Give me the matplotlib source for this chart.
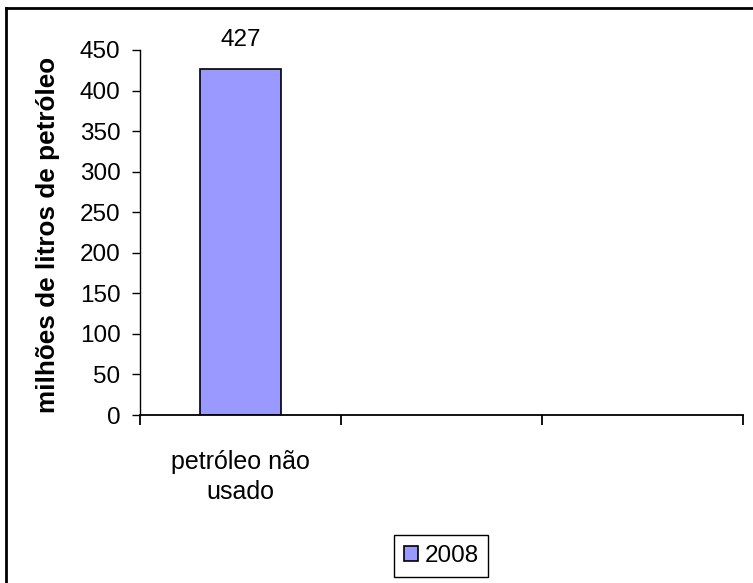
import matplotlib.pyplot as plt
from matplotlib.lines import Line2D
from matplotlib.patches import Patch

plt.rcParams['font.family'] = ['Liberation Sans', 'DejaVu Sans']

categories = ["petróleo não\nusado", "", ""]
values_2008 = [427, None, None]
series_name = "2008"
y_ticks = [0, 50, 100, 150, 200, 250, 300, 350, 400, 450]

W, H = 753, 583
fig = plt.figure(figsize=(W / 100, H / 100), dpi=100)
ax = fig.add_axes([140 / W, 1 - 415 / H, (743 - 140) / W, (415 - 50) / H])

fs = 17.5
bar_color = "#9999FF"
xs = [i for i, v in enumerate(values_2008) if v is not None]
vals = [v for v in values_2008 if v is not None]
ax.bar(xs, vals, width=0.4, color=bar_color, edgecolor="black", linewidth=1.2)
for x, v in zip(xs, vals):
    ax.annotate(str(v), (x, v), xytext=(0, 13), textcoords="offset points",
                ha="center", va="bottom", fontsize=fs)

ax.set_xlim(-0.5, len(categories) - 0.5)
ax.set_ylim(0, 450)
ax.set_yticks(y_ticks)
ax.tick_params(axis="y", labelsize=fs, direction="out", length=6, width=1, pad=8)

# category boundaries as major ticks, labels at centers as minor ticks
ax.set_xticks([i - 0.5 for i in range(len(categories) + 1)])
ax.set_xticklabels([])
ax.set_xticks(range(len(categories)), minor=True)
ax.set_xticklabels(categories, minor=True, fontsize=18, linespacing=1.35)
ax.tick_params(axis="x", which="major", direction="out", length=7, width=1.3)
ax.tick_params(axis="x", which="minor", length=0, pad=25)

for s in ["top", "right"]:
    ax.spines[s].set_visible(False)
ax.spines["left"].set_linewidth(1)
ax.spines["bottom"].set_linewidth(1.3)

ax.set_ylabel("milhões de litros de petróleo", fontsize=18.8, fontweight="bold")
ax.yaxis.set_label_coords((60 - 140) / 603, 0.493)

handle = Patch(facecolor=bar_color, edgecolor="black", linewidth=1.2)
leg = fig.legend([handle], [series_name], loc="center", bbox_to_anchor=(441 / W, 1 - 556 / H),
                 fontsize=fs, frameon=True, fancybox=False, edgecolor="black",
                 handlelength=0.6, handleheight=0.6, handletextpad=0.25, borderpad=0.4,
                 framealpha=1)
leg.get_frame().set_linewidth(1)

# outer chart border (left and top visible)
fig.add_artist(Line2D([6 / W, 6 / W], [0, 1 - 8 / H], transform=fig.transFigure, color="black", lw=2))
fig.add_artist(Line2D([6 / W, 1], [1 - 8 / H, 1 - 8 / H], transform=fig.transFigure, color="black", lw=2))

fig.savefig("out.png", dpi=100)
